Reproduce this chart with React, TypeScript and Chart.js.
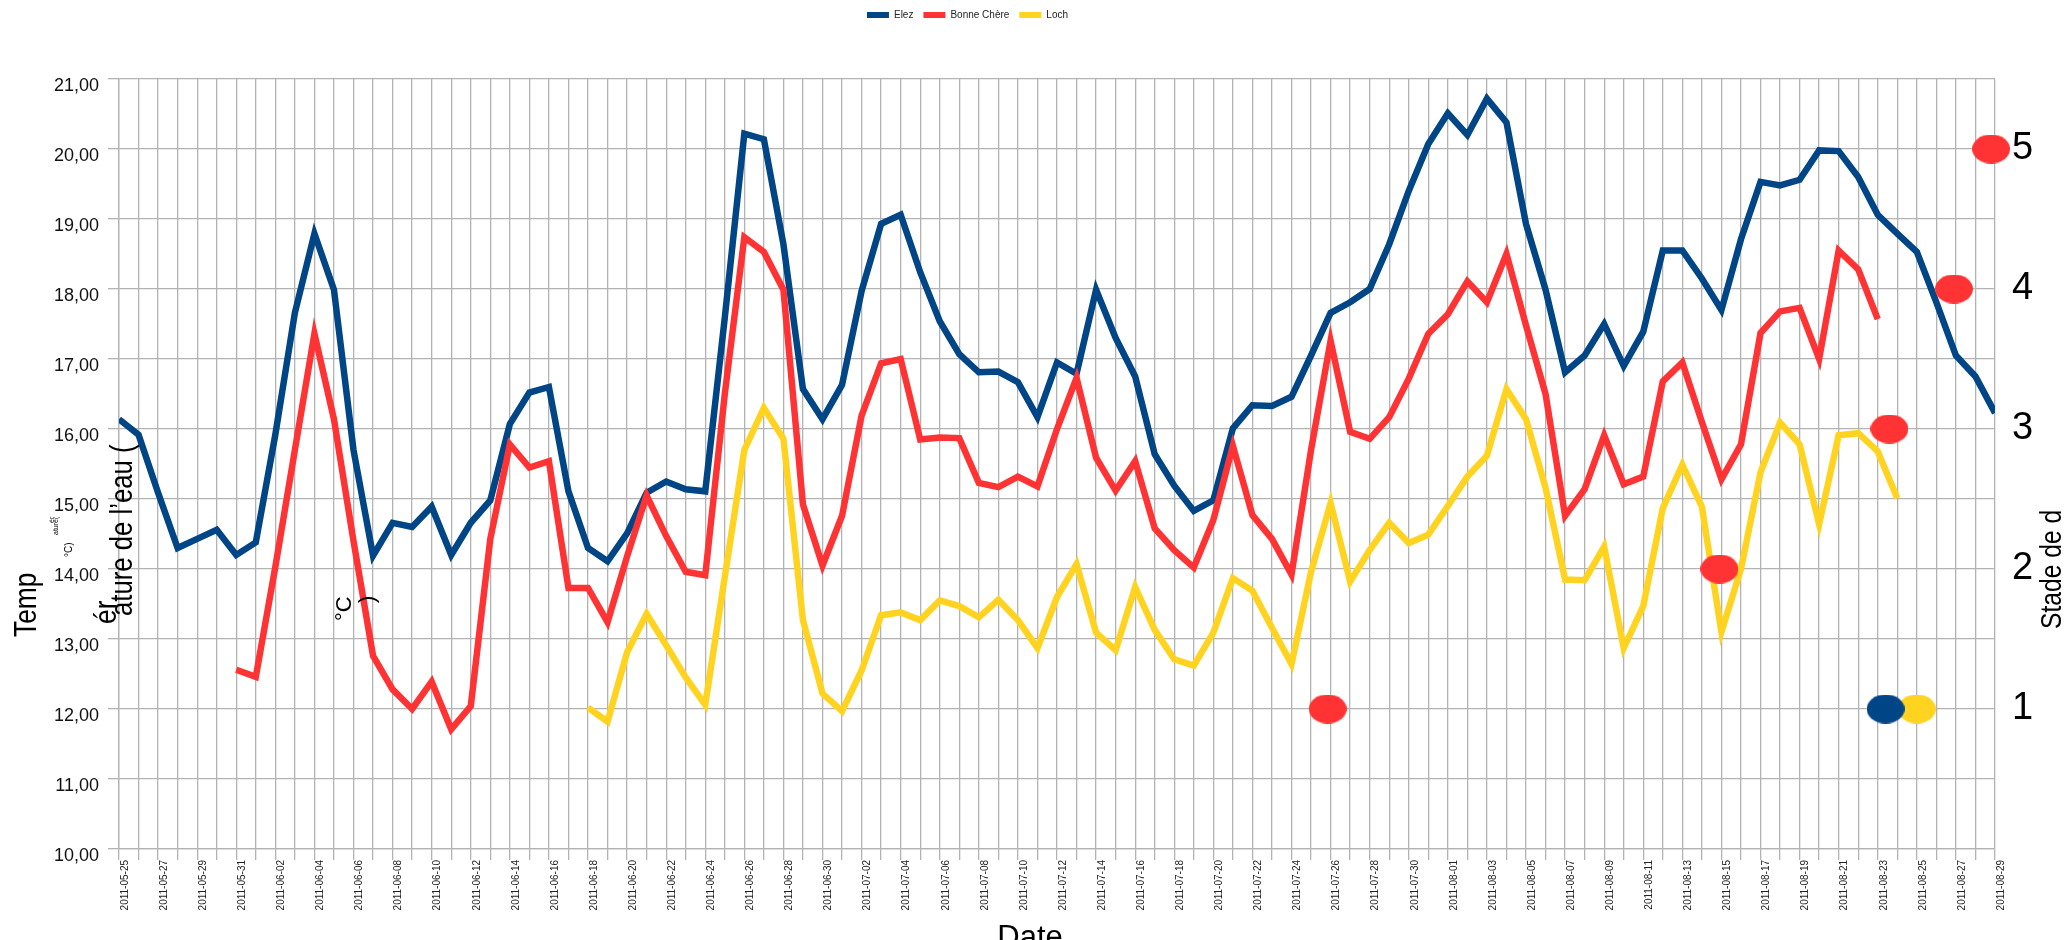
import React, { useEffect, useRef } from 'react';
import { Chart, registerables } from 'chart.js';

Chart.register(...registerables);

// ---------- data ----------
const dates = [
  '2011-05-25', '2011-05-26', '2011-05-27', '2011-05-28', '2011-05-29', '2011-05-30', '2011-05-31',
  '2011-06-01', '2011-06-02', '2011-06-03', '2011-06-04', '2011-06-05', '2011-06-06', '2011-06-07',
  '2011-06-08', '2011-06-09', '2011-06-10', '2011-06-11', '2011-06-12', '2011-06-13', '2011-06-14',
  '2011-06-15', '2011-06-16', '2011-06-17', '2011-06-18', '2011-06-19', '2011-06-20', '2011-06-21',
  '2011-06-22', '2011-06-23', '2011-06-24', '2011-06-25', '2011-06-26', '2011-06-27', '2011-06-28',
  '2011-06-29', '2011-06-30', '2011-07-01', '2011-07-02', '2011-07-03', '2011-07-04', '2011-07-05',
  '2011-07-06', '2011-07-07', '2011-07-08', '2011-07-09', '2011-07-10', '2011-07-11', '2011-07-12',
  '2011-07-13', '2011-07-14', '2011-07-15', '2011-07-16', '2011-07-17', '2011-07-18', '2011-07-19',
  '2011-07-20', '2011-07-21', '2011-07-22', '2011-07-23', '2011-07-24', '2011-07-25', '2011-07-26',
  '2011-07-27', '2011-07-28', '2011-07-29', '2011-07-30', '2011-07-31', '2011-08-01', '2011-08-02',
  '2011-08-03', '2011-08-04', '2011-08-05', '2011-08-06', '2011-08-07', '2011-08-08', '2011-08-09',
  '2011-08-10', '2011-08-11', '2011-08-12', '2011-08-13', '2011-08-14', '2011-08-15', '2011-08-16',
  '2011-08-17', '2011-08-18', '2011-08-19', '2011-08-20', '2011-08-21', '2011-08-22', '2011-08-23',
  '2011-08-24', '2011-08-25', '2011-08-26', '2011-08-27', '2011-08-28', '2011-08-29',
];

const elez = [
  16.14, 15.92, 15.09, 14.30, 14.43, 14.56, 14.20,
  14.38, 15.92, 17.66, 18.79, 17.99, 15.70, 14.19,
  14.66, 14.60, 14.89, 14.20, 14.66, 14.98, 16.07,
  16.52, 16.60, 15.11, 14.30, 14.11, 14.51, 15.09,
  15.25, 15.14, 15.11, 17.59, 20.22, 20.14, 18.64,
  16.57, 16.14, 16.63, 17.97, 18.93, 19.06, 18.24,
  17.54, 17.07, 16.81, 16.82, 16.67, 16.17, 16.95,
  16.79, 17.99, 17.30, 16.75, 15.64, 15.19, 14.83,
  14.98, 16.01, 16.34, 16.33, 16.46, 17.05, 17.66,
  17.81, 18.00, 18.64, 19.40, 20.07, 20.51, 20.20,
  20.72, 20.38, 18.93, 17.99, 16.81, 17.05, 17.50,
  16.90, 17.39, 18.55, 18.55, 18.15, 17.70, 18.71,
  19.53, 19.48, 19.56, 19.98, 19.97, 19.60, 19.06,
  18.79, 18.53, 17.81, 17.05, 16.75, 16.23,
];

const bonneChere = [
  null, null, null, null, null, null, 12.56,
  12.46, 14.03, 15.70, 17.36, 16.14, 14.40, 12.76,
  12.28, 12.00, 12.39, 11.71, 12.04, 14.43, 15.78,
  15.45, 15.54, 13.73, 13.73, 13.24, 14.18, 15.05,
  14.47, 13.96, 13.91, 16.50, 18.74, 18.53, 17.99,
  14.92, 14.05, 14.76, 16.19, 16.94, 17.00, 15.85,
  15.88, 15.87, 15.23, 15.17, 15.32, 15.18, 16.00,
  16.73, 15.59, 15.12, 15.54, 14.58, 14.27, 14.02,
  14.70, 15.76, 14.77, 14.43, 13.92, 15.70, 17.26,
  15.96, 15.86, 16.17, 16.72, 17.36, 17.64, 18.11,
  17.81, 18.50, 17.48, 16.50, 14.76, 15.14, 15.91,
  15.21, 15.32, 16.68, 16.95, 16.10, 15.28, 15.78,
  17.37, 17.68, 17.73, 17.00, 18.55, 18.28, 17.57,
  null, null, null, null, null, null,
];

const loch = [
  null, null, null, null, null, null, null,
  null, null, null, null, null, null, null,
  null, null, null, null, null, null, null,
  null, null, null, 12.02, 11.82, 12.81, 13.36,
  12.91, 12.45, 12.06, 13.89, 15.70, 16.30, 15.86,
  13.27, 12.22, 11.97, 12.55, 13.34, 13.38, 13.27,
  13.55, 13.47, 13.31, 13.56, 13.27, 12.87, 13.60,
  14.07, 13.09, 12.84, 13.74, 13.13, 12.71, 12.62,
  13.09, 13.87, 13.69, 13.16, 12.64, 13.96, 14.94,
  13.82, 14.27, 14.66, 14.37, 14.49, 14.90, 15.32,
  15.62, 16.57, 16.14, 15.16, 13.85, 13.84, 14.32,
  12.87, 13.47, 14.87, 15.49, 14.89, 13.10, 14.00,
  15.38, 16.09, 15.78, 14.64, 15.91, 15.94, 15.68,
  15.01, null, null, null, null, null,
];

// growth stage observations (position in days from 2011-05-25, stage)
const stageElezDay = [90.4];
const stageElez = [1];
const stageBonneChereDay = [61.85, 81.9, 90.6, 93.9, 95.8];
const stageBonneChere = [1, 2, 3, 4, 5];
const stageLochDay = [92.0];
const stageLoch = [1];

const seriesNames = ['Elez', 'Bonne Chère', 'Loch'];

// ---------- style ----------
const BLUE = '#004586';
const RED = '#ff3333';
const YELLOW = '#ffd320';
const GRID = '#b3b3b3';
const FONT = "'Liberation Sans', Arial, sans-serif";

function makeEllipse(color: string): HTMLCanvasElement {
  const c = document.createElement('canvas');
  c.width = 38;
  c.height = 29;
  const g = c.getContext('2d')!;
  g.fillStyle = color;
  g.beginPath();
  g.ellipse(19, 14.5, 19, 14.5, 0, 0, Math.PI * 2);
  g.fill();
  return c;
}

const legendShiftPlugin = {
  id: 'legendShift',
  afterLayout(chart: any) {
    const lg = chart.legend;
    if (!lg) return;
    lg.left -= 68;
    lg.right -= 68;
    const h = lg.height;
    lg.top = 0;
    lg.bottom = h;
  },
};

const axisTitlesPlugin = {
  id: 'axisTitles',
  afterDraw(chart: any) {
    const ctx = chart.ctx as CanvasRenderingContext2D;
    const rot = (text: string, x: number, y: number, size: number, condense: number) => {
      ctx.save();
      ctx.translate(x, y);
      ctx.rotate(-Math.PI / 2);
      ctx.scale(condense, 1);
      ctx.font = `${size}px ${FONT}`;
      ctx.textAlign = 'left';
      ctx.textBaseline = 'alphabetic';
      ctx.fillStyle = '#000';
      ctx.fillText(text, 0, 0);
      ctx.restore();
    };
    // left title, rendered in broken pieces as in the source picture
    rot('Temp', 36, 637, 31, 0.85);
    rot('ér', 54, 523, 7, 1);
    rot('ature(', 58, 535, 7, 1);
    rot('°C)', 72, 557, 10, 1);
    rot('ér', 116, 624, 31, 0.85);
    rot('ature de l\u2019eau (', 132, 616, 31, 0.83);
    rot('°C', 351, 621, 22, 1);
    rot(')', 374, 603, 22, 1);
    // right title
    rot('Stade de d', 2061, 629, 29, 0.85);
    // x title (cut at the bottom edge)
    ctx.save();
    ctx.font = `31px ${FONT}`;
    ctx.fillStyle = '#000';
    ctx.textAlign = 'center';
    ctx.textBaseline = 'alphabetic';
    ctx.fillText('Date', 1030, 947);
    ctx.restore();
  },
};

export default function App() {
  const ref = useRef<HTMLCanvasElement | null>(null);

  useEffect(() => {
    document.body.style.margin = '0';
    document.body.style.overflow = 'hidden';
    if (!ref.current) return;
    Chart.defaults.font.family = FONT;

    const pts = (arr: (number | null)[]) => arr.map((v, i) => ({ x: i, y: v }));
    const stagePts = (days: number[], vals: number[]) => days.map((d, i) => ({ x: d, y: vals[i] }));

    const lineDs = (label: string, data: (number | null)[], color: string, order: number) => ({
      label,
      data: pts(data),
      borderColor: color,
      backgroundColor: color,
      borderWidth: 6.5,
      pointRadius: 0,
      tension: 0,
      borderJoinStyle: 'miter' as const,
      borderCapStyle: 'butt' as const,
      spanGaps: false,
      yAxisID: 'y',
      order,
    });

    const stageDs = (label: string, data: { x: number; y: number }[], color: string, order: number) => ({
      label,
      data,
      showLine: false,
      pointStyle: makeEllipse(color),
      pointRadius: 10,
      borderColor: color,
      backgroundColor: color,
      yAxisID: 'y2',
      clip: false as const,
      order,
    });

    const chart = new Chart(ref.current, {
      type: 'line',
      data: {
        datasets: [
          lineDs(seriesNames[0], elez, BLUE, 3),
          lineDs(seriesNames[1], bonneChere, RED, 2),
          lineDs(seriesNames[2], loch, YELLOW, 1),
          stageDs('Stade Elez', stagePts(stageElezDay, stageElez), BLUE, 0),
          stageDs('Stade Bonne Chère', stagePts(stageBonneChereDay, stageBonneChere), RED, 0.1),
          stageDs('Stade Loch', stagePts(stageLochDay, stageLoch), YELLOW, 0.5),
        ] as any,
      },
      options: {
        responsive: false,
        animation: false,
        events: [],
        layout: { padding: { top: 49, left: 0, right: 0, bottom: 0 } },
        plugins: {
          tooltip: { enabled: false },
          legend: {
            position: 'top',
            labels: {
              boxWidth: 22,
              boxHeight: 6,
              padding: 10,
              color: '#222',
              font: { size: 10, family: FONT },
              generateLabels: (c: any) =>
                Chart.defaults.plugins.legend.labels
                  .generateLabels(c)
                  .filter((it: any) => it.datasetIndex < 3)
                  .sort((a: any, b: any) => a.datasetIndex - b.datasetIndex)
                  .map((it: any) => ({ ...it, lineWidth: 0 })),
            },
          },
        },
        scales: {
          x: {
            type: 'linear',
            min: 0,
            max: dates.length - 1,
            ticks: {
              stepSize: 1,
              autoSkip: false,
              maxRotation: 90,
              minRotation: 90,
              padding: 0,
              labelOffset: 6,
              color: '#222',
              font: { size: 10, family: FONT },
              callback: (v: any) => (Number(v) % 2 === 0 ? dates[Number(v)] : ''),
            },
            grid: { color: GRID, lineWidth: 1.3, tickLength: 11 },
            border: { color: GRID, width: 1.3 },
            afterFit: (s: any) => {
              s.height = 91;
            },
          },
          y: {
            type: 'linear',
            position: 'left',
            min: 10,
            max: 21,
            ticks: {
              stepSize: 1,
              padding: 9,
              labelOffset: 7,
              color: '#111',
              font: { size: 18, family: FONT },
              callback: (v: any) => Number(v).toFixed(2).replace('.', ','),
            },
            grid: { color: GRID, lineWidth: 1.3, tickLength: 11 },
            border: { color: GRID, width: 1.3 },
            afterFit: (s: any) => {
              s.width = 119;
            },
          },
          y2: {
            type: 'linear',
            position: 'right',
            min: 0,
            max: 5.5,
            ticks: {
              stepSize: 1,
              padding: 17,
              color: '#000',
              font: { size: 38, family: FONT },
              callback: (v: any) => {
                const n = Number(v);
                return Number.isInteger(n) && n >= 1 && n <= 5 ? String(n) : '';
              },
            },
            grid: { display: false, drawTicks: false },
            border: { display: false },
            afterFit: (s: any) => {
              s.width = 76;
            },
          },
        },
      } as any,
      plugins: [legendShiftPlugin, axisTitlesPlugin],
    });

    return () => {
      chart.destroy();
    };
  }, []);

  return (
    <div style={{ width: 2071, height: 940, overflow: 'hidden', background: '#fff' }}>
      <canvas ref={ref} width={2071} height={940} style={{ display: 'block' }} />
    </div>
  );
}
